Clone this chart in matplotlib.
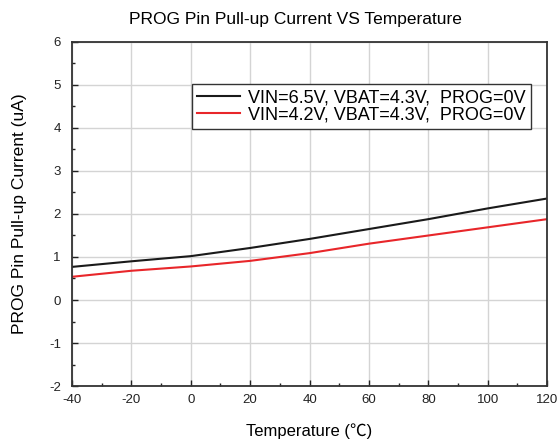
import matplotlib
matplotlib.use("Agg")
import matplotlib.pyplot as plt
from matplotlib.ticker import MultipleLocator

temps = [-40, -20, 0, 20, 40, 60, 80, 100, 120]
i_vin65 = [0.77, 0.90, 1.02, 1.21, 1.42, 1.65, 1.88, 2.13, 2.36]
i_vin42 = [0.54, 0.68, 0.78, 0.91, 1.09, 1.31, 1.50, 1.69, 1.88]
labels = ["VIN=6.5V, VBAT=4.3V,  PROG=0V", "VIN=4.2V, VBAT=4.3V,  PROG=0V"]

plt.rcParams['font.family'] = ['Liberation Sans', 'Noto Sans CJK SC', 'DejaVu Sans']
plt.rcParams['axes.unicode_minus'] = False

fig = plt.figure(figsize=(5.6, 4.41), dpi=100)
ax = fig.add_axes([0.1286, 0.1247, 0.8484, 0.7801])

ax.plot(temps, i_vin65, color='#1a1a1a', lw=1.5, label=labels[0])
ax.plot(temps, i_vin42, color='#e8262a', lw=1.5, label=labels[1])

ax.set_xlim(-40, 120)
ax.set_ylim(-2, 6)
ax.xaxis.set_major_locator(MultipleLocator(20))
ax.xaxis.set_minor_locator(MultipleLocator(10))
ax.yaxis.set_major_locator(MultipleLocator(1))
ax.yaxis.set_minor_locator(MultipleLocator(0.5))
ax.tick_params(which='both', direction='in', top=False, right=False, labelsize=9.5, colors='#222222')
ax.tick_params(which='major', length=4, width=1)
ax.tick_params(which='minor', length=2, width=1)
ax.tick_params(axis='x', pad=6)
ax.tick_params(axis='y', pad=8)
ax.grid(True, which='major', color='#d4d4d4', lw=1)
ax.set_axisbelow(True)
for s in ax.spines.values():
    s.set_color('#333333')
    s.set_linewidth(1.3)

ax.set_title("PROG Pin Pull-up Current VS Temperature", fontsize=12.5, pad=13, x=0.47)
ax.set_xlabel("Temperature (℃)", fontsize=12, labelpad=12)
ax.set_ylabel("PROG Pin Pull-up Current (uA)", fontsize=12.5, labelpad=16)

leg = ax.legend(loc='upper left', bbox_to_anchor=(0.252, 0.878), fontsize=13,
                frameon=True, fancybox=False, edgecolor='#333333', framealpha=1,
                handlelength=2.4, handletextpad=0.4, borderpad=0.3, labelspacing=0.02,
                borderaxespad=0)
leg.get_frame().set_linewidth(1)

fig.savefig("out.png", dpi=100)
